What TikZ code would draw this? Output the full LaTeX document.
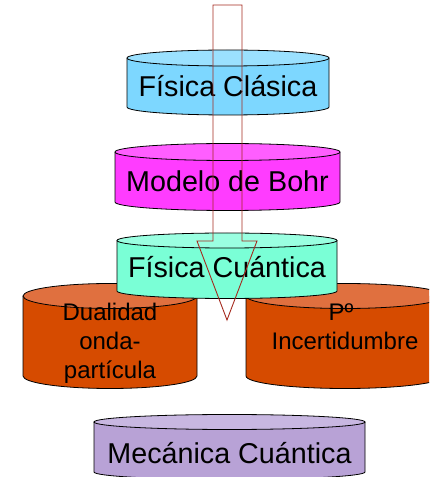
\documentclass[tikz,border=0pt]{standalone}
\usepackage{fontspec}
\setmainfont{Liberation Sans}
\definecolor{blueT}{HTML}{9BE1FF}
\definecolor{blueB}{HTML}{7DD7FF}
\definecolor{magT}{HTML}{FF5EFF}
\definecolor{magB}{HTML}{FF3CFF}
\definecolor{aquaT}{HTML}{9AFFE1}
\definecolor{aquaB}{HTML}{7AFFD6}
\definecolor{orT}{HTML}{E0703F}
\definecolor{orB}{HTML}{D64B00}
\definecolor{purT}{HTML}{C8B7E1}
\definecolor{purB}{HTML}{B8A2D6}
\definecolor{arrowred}{HTML}{A52A1E}
% #1 cx, #2 rx, #3 top centre y, #4 bottom centre y, #5 ry, #6 top colour, #7 body colour
\newcommand\cylshape[7]{%
  \fill[#7] (#1-#2,#3) -- (#1-#2,#4) arc[start angle=180,end angle=360,x radius=#2,y radius=#5] -- (#1+#2,#3) -- cycle;
  \draw[cyledge] (#1-#2,#3) -- (#1-#2,#4) arc[start angle=180,end angle=360,x radius=#2,y radius=#5] -- (#1+#2,#3);
  \filldraw[cyledge,fill=#6] (#1,#3) ellipse[x radius=#2,y radius=#5];
}
\begin{document}
\begin{tikzpicture}[x=1pt,y=1pt,
  cyledge/.style={draw=black,line width=0.8pt},
  bigtxt/.style={anchor=base,inner sep=0pt,font=\fontsize{28.7}{34}\selectfont},
  smalltxt/.style={anchor=base,inner sep=0pt,font=\fontsize{24}{29}\selectfont},
  bigarrow/.style={draw=arrowred,line width=0.9pt,line join=miter}]
\useasboundingbox (0,0) rectangle (429,477);
\clip (0,0) rectangle (429,477);
% lower side cylinders
\cylshape{110}{87}{181}{101}{12.5}{orT}{orB}
\cylshape{345}{99}{181}{101}{12.5}{orT}{orB}
% central stack
\cylshape{227}{110}{236.5}{186}{7.5}{aquaT}{aquaB}
\cylshape{228}{101}{419}{370}{8}{blueT}{blueB}
\cylshape{227.5}{112.5}{325}{275}{8.5}{magT}{magB}
\cylshape{229.5}{135.5}{55}{5}{7.5}{purT}{purB}
% texts
\node[bigtxt] (fc) at (228,380) {Física Clásica};
\node[bigtxt] (mb) at (227.5,285) {Modelo de Bohr};
\node[bigtxt] (fq) at (227,199) {Física Cuántica};
\node[bigtxt] (mq) at (229.5,13) {Mecánica Cuántica};
\node[smalltxt] (d1) at (110,156) {Dualidad};
\node[smalltxt] (d2) at (110,127) {onda-};
\node[smalltxt] (d3) at (110,98) {partícula};
\node[smalltxt] (p1) at (341,156) {Pº};
\node[smalltxt] (p2) at (345,127) {Incertidumbre};
% arrow
\coordinate (sl) at (213,472);
\coordinate (sr) at (242,472);
\coordinate (tip) at (227,157);
\draw[bigarrow] (sl) -- (213,236) -- (197,236) -- (tip) -- (257,236) -- (242,236) -- (sr) -- cycle;
\end{tikzpicture}
\end{document}
